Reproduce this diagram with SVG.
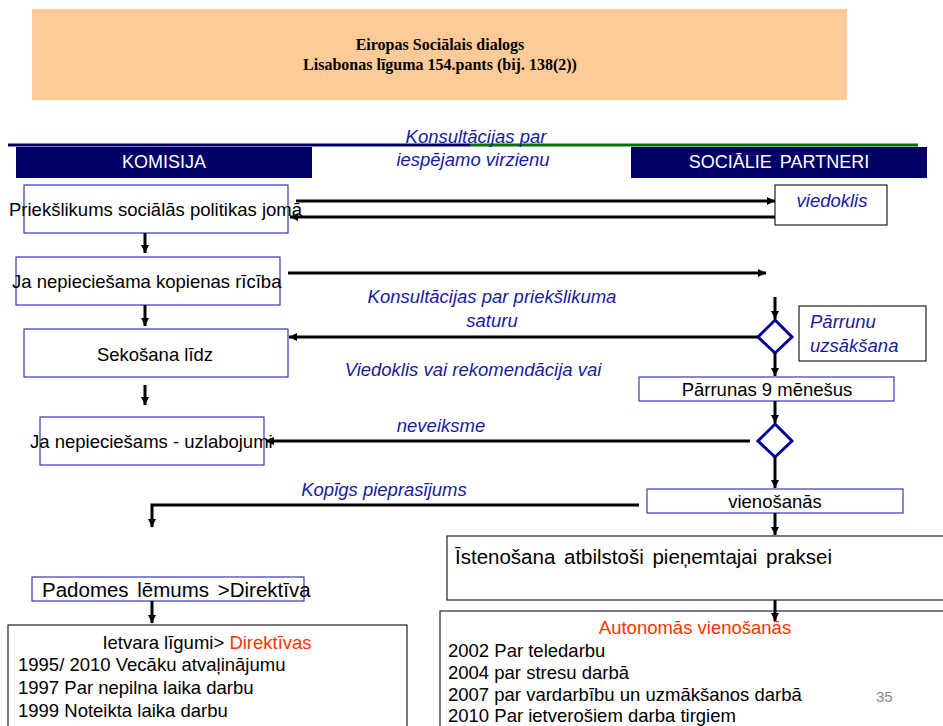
<svg xmlns="http://www.w3.org/2000/svg" width="943" height="726" viewBox="0 0 943 726">
<defs>
<marker id="ah" markerUnits="userSpaceOnUse" markerWidth="10" markerHeight="10" refX="8" refY="4" orient="auto">
<path d="M0,0 L8,4 L0,8 z" fill="#000"/>
</marker>
<style>
.t{font-family:"Liberation Sans",Arial,sans-serif;fill:#000;font-size:18.5px;}
.big{font-size:20.5px;word-spacing:3px;}
.lbl{font-family:"Liberation Sans",Arial,sans-serif;font-style:italic;fill:#1a1aa0;font-size:18.5px;}
.bb{fill:#fff;stroke:#3a3ab0;stroke-width:1.2;}
.kb{fill:#fff;stroke:#222;stroke-width:1.2;}
.dm{fill:#fff;stroke:#000099;stroke-width:3;}
.bar{fill:#000066;}
.bt{font-family:"Liberation Sans",Arial,sans-serif;fill:#fff;font-size:18px;}
.hd{font-family:"Liberation Serif","Times New Roman",serif;font-weight:bold;font-size:16px;fill:#000;}
.red{fill:#ff3300;}
.pg{font-family:"Liberation Sans",Arial,sans-serif;font-size:15px;fill:#8a8a8a;}
.c path{fill:none;stroke:#000;stroke-width:3;marker-end:url(#ah);}
</style>
</defs>
<rect width="943" height="726" fill="#fff"/>
<g id="header">
<rect x="32" y="9" width="815" height="91" fill="#fecb98"/>
<text class="hd" x="440" y="50" text-anchor="middle">Eiropas Sociālais dialogs</text>
<text class="hd" x="440" y="70" text-anchor="middle">Lisabonas līguma 154.pants (bij. 138(2))</text>
</g>
<g id="toplines">
<line x1="8" y1="145" x2="470" y2="145" stroke="#000066" stroke-width="3"/>
<line x1="470" y1="145" x2="918" y2="145" stroke="#007000" stroke-width="3"/>
</g>
<g id="komisija">
<rect class="bar" x="16" y="147" width="296" height="31"/>
<text class="bt" x="164" y="168" text-anchor="middle">KOMISIJA</text>
</g>
<g id="socialie">
<rect class="bar" x="631" y="147" width="296" height="31"/>
<text class="bt" x="779" y="168" text-anchor="middle" word-spacing="3">SOCIĀLIE PARTNERI</text>
</g>
<g id="lbl-konsultacijas1">
<text class="lbl" x="476" y="143" text-anchor="middle">Konsultācijas par</text>
<text class="lbl" x="473" y="166" text-anchor="middle">iespējamo virzienu</text>
</g>
<g id="n-prieks">
<rect class="bb" x="24" y="185" width="264" height="48"/>
<text class="t" x="9" y="216">Priekšlikums sociālās politikas jomā</text>
</g>
<g id="n-viedoklis">
<rect class="kb" x="775" y="185" width="112" height="40"/>
<text class="lbl" x="832" y="207" text-anchor="middle">viedoklis</text>
</g>
<g id="n-janepiec">
<rect class="bb" x="16" y="257" width="264" height="48"/>
<text class="t" x="12" y="288">Ja nepieciešama kopienas rīcība</text>
</g>
<g id="n-sekosana">
<rect class="bb" x="24" y="329" width="264" height="48"/>
<text class="t" x="155" y="361" text-anchor="middle">Sekošana līdz</text>
</g>
<g id="n-uzlabojumi">
<rect class="bb" x="40" y="417" width="224" height="48"/>
<text class="t" x="30" y="448">Ja nepieciešams - uzlabojumi</text>
</g>
<g id="n-diamond1">
<polygon class="dm" points="775,320 792,337 775,353 758,337"/>
</g>
<g id="n-parrunu">
<rect class="kb" x="799" y="306" width="127" height="55"/>
<text class="lbl" x="810" y="328">Pārrunu</text>
<text class="lbl" x="810" y="352">uzsākšana</text>
</g>
<g id="n-parrunas9">
<rect class="bb" x="639" y="377" width="255" height="24"/>
<text class="t" x="767" y="396" text-anchor="middle">Pārrunas 9 mēnešus</text>
</g>
<g id="n-diamond2">
<polygon class="dm" points="775,424 792,441 775,457 758,441"/>
</g>
<g id="n-vienosanas">
<rect class="bb" x="647" y="489" width="256" height="24"/>
<text class="t" x="775" y="508" text-anchor="middle">vienošanās</text>
</g>
<g id="n-istenosana">
<rect class="kb" x="447" y="536" width="500" height="64"/>
<text class="t big" x="455" y="564">Īstenošana atbilstoši pieņemtajai praksei</text>
</g>
<g id="n-padomes">
<rect class="bb" x="32" y="577" width="272" height="24"/>
<text class="t big" x="42" y="597">Padomes lēmums &gt;Direktīva</text>
</g>
<g id="n-ietvara">
<rect class="kb" x="8" y="625" width="399" height="110"/>
<text class="t" x="207" y="649" text-anchor="middle">Ietvara līgumi&gt; <tspan class="red">Direktīvas</tspan></text>
<text class="t" x="18" y="671">1995/ 2010 Vecāku atvaļinājumu</text>
<text class="t" x="18" y="694">1997 Par nepilna laika darbu</text>
<text class="t" x="18" y="717">1999 Noteikta laika darbu</text>
</g>
<g id="n-autonomas">
<rect class="kb" x="440" y="611" width="510" height="130"/>
<text class="t red" x="695" y="634" text-anchor="middle">Autonomās vienošanās</text>
<text class="t" x="448" y="657">2002 Par teledarbu</text>
<text class="t" x="448" y="679">2004 par stresu darbā</text>
<text class="t" x="448" y="701">2007 par vardarbību un uzmākšanos darbā</text>
<text class="t" x="448" y="722">2010 Par ietverošiem darba tirgiem</text>
<text class="pg" x="876" y="702">35</text>
</g>
<g id="labels">
<text class="lbl" x="492" y="303" text-anchor="middle">Konsultācijas par priekšlikuma</text>
<text class="lbl" x="492" y="327" text-anchor="middle">saturu</text>
<text class="lbl" x="473" y="376" text-anchor="middle">Viedoklis vai rekomendācija vai</text>
<text class="lbl" x="441" y="432" text-anchor="middle">neveiksme</text>
<text class="lbl" x="384" y="496" text-anchor="middle">Kopīgs pieprasījums</text>
</g>
<g id="connectors" class="c">
<path d="M145,233 V253"/>
<path d="M145,305 V326"/>
<path d="M145,385 V405"/>
<path d="M296,201 H775"/>
<path d="M775,217 H290"/>
<path d="M288,273 H766"/>
<path d="M775,297 V319"/>
<path d="M758,337 H289"/>
<path d="M775,353 V376"/>
<path d="M775,401 V423"/>
<path d="M750,441 H266"/>
<path d="M775,457 V488"/>
<path d="M639,505 H152 V527"/>
<path d="M775,513 V535"/>
<path d="M152,601 V623"/>
<path d="M775,600 V621"/>
</g>
</svg>
